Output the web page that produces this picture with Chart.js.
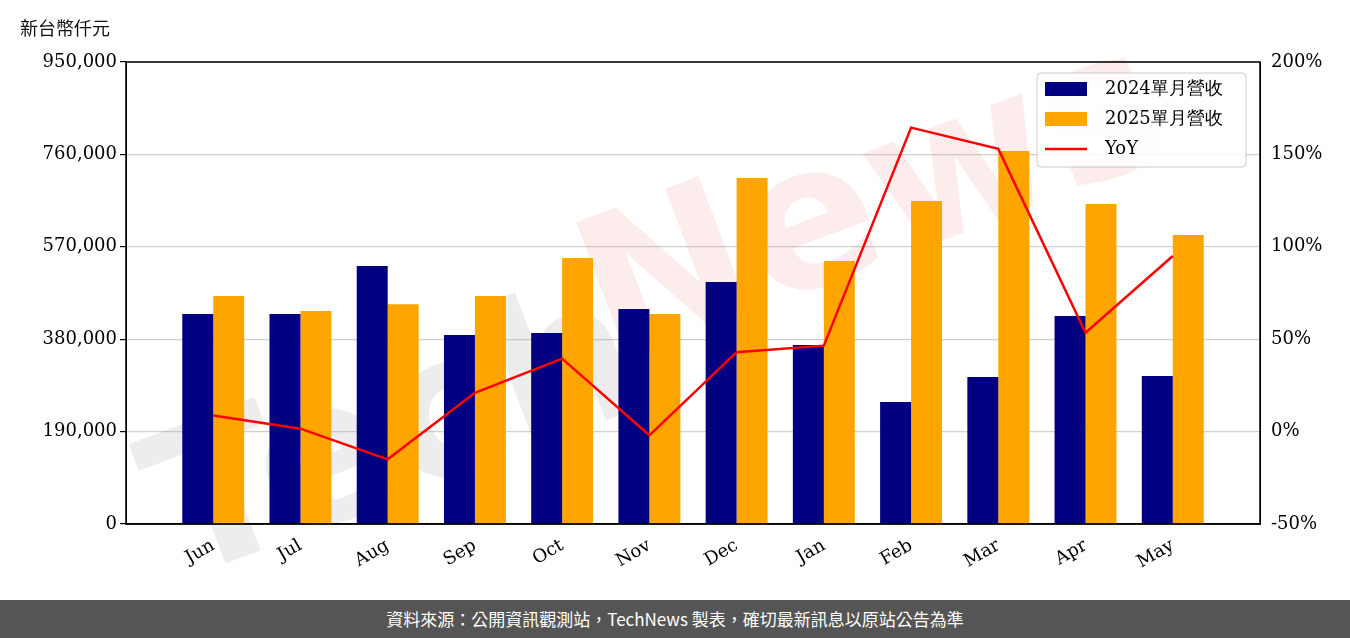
<!DOCTYPE html>
<html><head><meta charset="utf-8">
<script src="https://cdn.jsdelivr.net/npm/chart.js@4/dist/chart.umd.min.js"></script>
<style>
body{margin:0;background:#fff;width:1350px;height:638px;overflow:hidden;font-family:"DejaVu Serif",serif}
#wrap{position:relative;width:1350px;height:600px}
#footer{position:absolute;top:600px;left:0;width:1350px;height:38px;background:#555;color:#fff;font-family:"Noto Sans CJK TC",sans-serif;font-size:17px;line-height:38px;text-align:center}
#unit{position:absolute;left:20px;top:14px;font-family:"Noto Sans CJK TC",sans-serif;font-size:18px;color:#111}
</style></head><body>
<div id="wrap"><canvas id="c" width="1350" height="600"></canvas><div id="unit">新台幣仟元</div></div>
<div id="footer">資料來源：公開資訊觀測站，TechNews 製表，確切最新訊息以原站公告為準</div>
<script>
const months=["Jun","Jul","Aug","Sep","Oct","Nov","Dec","Jan","Feb","Mar","Apr","May"];
const rev2024=[432000,432000,530500,388600,392700,442000,497500,368000,250800,302200,427600,304300];
const rev2025=[468800,438000,452000,468800,547000,431800,711400,540700,664000,767000,658000,594200];
const yoy=[8.7,1.6,-15,21,39.5,-2,43,46.5,164.5,153,53.5,95];
const leftTicks=[0,190000,380000,570000,760000,950000];
const rightTicks=[-50,0,50,100,150,200];
const pad=a=>[null,...a,null];
const F="'DejaVu Serif', serif";
const deco={id:'deco',
 beforeDatasetsDraw(ch){const c=ch.ctx;c.save();c.translate(640,320);c.rotate(-0.36);
  c.font="bold 200px 'DejaVu Sans'";c.textAlign='center';c.textBaseline='middle';
  c.fillStyle='rgba(150,150,150,0.17)';c.fillText('Tech',-270,30);c.fillStyle='rgba(230,80,80,0.11)';c.fillText('News',260,-20);c.restore();},
 afterDraw(ch){const c=ch.ctx,a=ch.chartArea;c.save();c.strokeStyle='#000';c.lineWidth=1.5;
  c.strokeRect(a.left,a.top,a.right-a.left,a.bottom-a.top);
  const lx=1037,ly=73,w=209,h=94;c.fillStyle='rgba(255,255,255,0.85)';c.strokeStyle='#ccc';c.lineWidth=1;
  c.beginPath();c.roundRect(lx,ly,w,h,4);c.fill();c.stroke();
  const items=[['#000080','2024單月營收','bar'],['#FFA500','2025單月營收','bar'],['#FF0000','YoY','line']];
  c.font="18px "+F;c.textBaseline='middle';
  items.forEach((it,i)=>{const y=ly+16+i*30;
   if(it[2]==='bar'){c.fillStyle=it[0];c.fillRect(lx+8,y-7,42,14);}else{c.strokeStyle=it[0];c.lineWidth=2.5;c.beginPath();c.moveTo(lx+8,y);c.lineTo(lx+50,y);c.stroke();}
   c.fillStyle='#000';c.fillText(it[1],lx+68,y);});
  c.restore();}};
new Chart(document.getElementById('c'),{
 data:{labels:["",...months,""],datasets:[
  {type:'line',label:'YoY',data:pad(yoy),yAxisID:'y1',borderColor:'#FF0000',borderWidth:2.5,pointRadius:0,tension:0,order:0},
  {type:'bar',label:'2024單月營收',data:pad(rev2024),backgroundColor:'#000080',yAxisID:'y',categoryPercentage:0.71,barPercentage:1,order:1},
  {type:'bar',label:'2025單月營收',data:pad(rev2025),backgroundColor:'#FFA500',yAxisID:'y',categoryPercentage:0.71,barPercentage:1,order:1}]},
 options:{responsive:false,animation:false,
  layout:{padding:{top:62,left:0,right:0,bottom:0}},
  plugins:{legend:{display:false},tooltip:{enabled:false}},
  scales:{
   x:{offset:false,grid:{display:false},border:{color:'#000',width:1.5},
      afterFit(s){s.height=76;},
      ticks:{color:'#000',font:{family:F,size:18},maxRotation:30,minRotation:30,autoSkip:false}},
   y:{position:'left',min:0,max:950000,afterBuildTicks(s){s.ticks=leftTicks.map(v=>({value:v}));},
      afterFit(s){s.width=126;},
      grid:{color:'#d0d0d0',lineWidth:1.2,drawTicks:true,tickColor:'#000',tickLength:6},border:{color:'#000'},
      ticks:{color:'#000',font:{family:F,size:18},callback:v=>v.toLocaleString('en-US')}},
   y1:{position:'right',min:-50,max:200,afterBuildTicks(s){s.ticks=rightTicks.map(v=>({value:v}));},
      afterFit(s){s.width=90;},
      grid:{display:false,drawOnChartArea:false},border:{color:'#000'},
      ticks:{color:'#000',font:{family:F,size:18},callback:v=>v+'%'}}}},
 plugins:[deco]});
</script></body></html>
